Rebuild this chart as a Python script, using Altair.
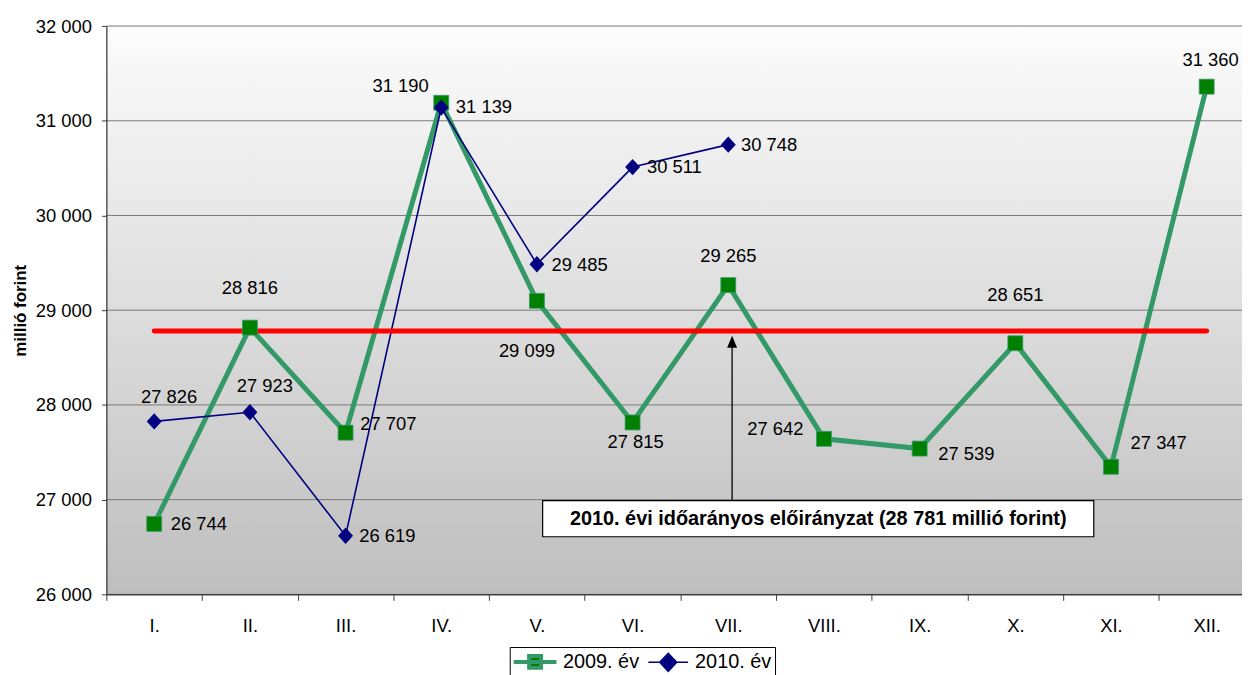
import json
import altair as alt
import pandas as pd

# ---------------- data ----------------
months = ["I.", "II.", "III.", "IV.", "V.", "VI.", "VII.", "VIII.", "IX.", "X.", "XI.", "XII."]
values_2009 = [26744, 28816, 27707, 31190, 29099, 27815, 29265, 27642, 27539, 28651, 27347, 31360]
values_2010 = [27826, 27923, 26619, 31139, 29485, 30511, 30748]
target_value = 28781
series_names = ["2009. év", "2010. év"]
y_ticks = [26000, 27000, 28000, 29000, 30000, 31000, 32000]
y_title = "millió forint"
annotation_text = "2010. évi időarányos előirányzat (28 781 millió forint)"

# ---------------- layout / style ----------------
FONT = "Liberation Sans"
PLOT_W, PLOT_H = 1143, 572
BAND_PX = 96.3
X_MAX = PLOT_W / BAND_PX

GREEN_LINE = "#339966"
GREEN_MARK = "#008000"
NAVY = "#000080"
RED = "#FF0000"

# label offsets (pixels) for every data label
LABEL_OFFSETS_2009 = [(45, 0), (0, -40), (43, -9), (-41, -17), (-10, 51), (3, 20),
                      (0, -29), (-49, -10), (47, 5), (0, -49), (48, -24), (4, -27)]
LABEL_OFFSETS_2010 = [(15, -25), (15, -26), (42, 0), (43, -1), (43, 1), (42, 0), (41, 0)]

# annotation placement (in data units)
BOX_X = (4.56, 10.32)
BOX_Y = (26608, 26990)
ARROW_X = 6.54
ARROW_TIP = 28730

df09 = pd.DataFrame({
    "idx": list(range(len(values_2009))),
    "pos": [i + 0.5 for i in range(len(values_2009))],
    "value": values_2009,
    "series": series_names[0],
})
df10 = pd.DataFrame({
    "idx": list(range(len(values_2010))),
    "pos": [i + 0.5 for i in range(len(values_2010))],
    "value": values_2010,
    "series": series_names[1],
})
df_target = pd.DataFrame({
    "pos": [i + 0.5 for i in range(len(months))],
    "value": [target_value] * len(months),
})
df_grid = pd.DataFrame({"value": y_ticks})

x_scale = alt.Scale(domain=[0, X_MAX], nice=False, zero=False)
y_scale = alt.Scale(domain=[y_ticks[0], y_ticks[-1]], nice=False, zero=False)

x_axis = alt.Axis(
    values=list(range(len(months))),
    labelExpr=f"{json.dumps(months)}[datum.value]",
    labelOffset=BAND_PX / 2,
    labelFlush=False,
    labelOverlap=False,
    labelAlign="center",
    labelPadding=16,
    labelFont=FONT,
    labelFontSize=18.5,
    labelColor="black",
    tickSize=6,
    tickColor="#404040",
    domainColor="#404040",
    domainWidth=1.5,
    grid=False,
    title=None,
    zindex=1,
)
y_axis = alt.Axis(
    values=y_ticks,
    labelExpr="replace(format(datum.value, ','), ',', ' ')",
    labelPadding=10,
    labelFont=FONT,
    labelFontSize=18.5,
    labelColor="black",
    tickSize=5,
    tickColor="#404040",
    domainColor="#303030",
    domainWidth=1.2,
    grid=False,
    title=y_title,
    titleFont=FONT,
    titleFontSize=17,
    titleFontWeight="bold",
    titleColor="black",
    titlePadding=6,
    zindex=1,
)


def X():
    return alt.X("pos:Q", scale=x_scale, axis=x_axis)


def Y():
    return alt.Y("value:Q", scale=y_scale, axis=y_axis)


gradient = alt.LinearGradient(
    gradient="linear",
    stops=[alt.GradientStop(color="#FCFCFC", offset=0), alt.GradientStop(color="#BEBEBE", offset=1)],
    x1=0, x2=0, y1=0, y2=1,
)
background = alt.Chart(alt.Data(values=[{}])).mark_rect(color=gradient).encode(
    x=alt.value(0), x2=alt.value(PLOT_W + 20), y=alt.value(0), y2=alt.value(PLOT_H)
)

grid = alt.Chart(df_grid).mark_rule(color="#7a7a7a", strokeWidth=1).encode(y=Y())

line09 = alt.Chart(df09).mark_line(color=GREEN_LINE, strokeWidth=5).encode(x=X(), y=Y())
line10 = alt.Chart(df10).mark_line(color=NAVY, strokeWidth=1.6).encode(x=X(), y=Y())
target = alt.Chart(df_target).mark_line(color=RED, strokeWidth=5, strokeCap="round").encode(x=X(), y=Y())
pts09 = alt.Chart(df09).mark_point(
    shape="square", filled=True, size=225, fill=GREEN_MARK, stroke=GREEN_LINE, strokeWidth=0.8, opacity=1
).encode(x=X(), y=Y())
pts10 = alt.Chart(df10).mark_point(
    shape="M0,-1.1L1,0L0,1.1L-1,0Z", filled=True, size=225, color=NAVY, opacity=1
).encode(x=X(), y=Y())

label_expr = "replace(format(datum.value, ','), ',', ' ')"
label_layers = []
for df, offsets in ((df09, LABEL_OFFSETS_2009), (df10, LABEL_OFFSETS_2010)):
    for i, (dx, dy) in enumerate(offsets):
        label_layers.append(
            alt.Chart(df).transform_filter(f"datum.idx == {i}").transform_calculate(label=label_expr)
            .mark_text(font=FONT, fontSize=18.5, color="black", align="center", baseline="middle", dx=dx, dy=dy)
            .encode(x=X(), y=Y(), text="label:N")
        )

df_box = pd.DataFrame({"pos": [BOX_X[0]], "pos2": [BOX_X[1]], "value": [BOX_Y[0]], "value2": [BOX_Y[1]]})
box = alt.Chart(df_box).mark_rect(fill="white", stroke="black", strokeWidth=1.2).encode(
    x=X(), x2="pos2:Q", y=Y(), y2="value2:Q"
)
df_text = pd.DataFrame({"pos": [(BOX_X[0] + BOX_X[1]) / 2], "value": [(BOX_Y[0] + BOX_Y[1]) / 2], "t": [annotation_text]})
box_text = alt.Chart(df_text).mark_text(
    font=FONT, fontSize=20, fontWeight="bold", color="black", align="center", baseline="middle"
).encode(x=X(), y=Y(), text="t:N")

df_arrow = pd.DataFrame({"pos": [ARROW_X], "value": [BOX_Y[1]], "value2": [ARROW_TIP - 120]})
arrow_line = alt.Chart(df_arrow).mark_rule(color="black", strokeWidth=1.3).encode(
    x=X(), y=Y(), y2="value2:Q"
)
df_head = pd.DataFrame({"pos": [ARROW_X], "value": [ARROW_TIP]})
arrow_head = alt.Chart(df_head).mark_point(
    shape="M0,0L-1,2.4L1,2.4Z", filled=True, size=100, color="black", opacity=1
).encode(x=X(), y=Y())

legend = alt.Legend(
    title=None, orient="none", legendX=406, legendY=625, direction="horizontal",
    strokeColor="black", fillColor="white", padding=3, cornerRadius=0,
    labelFont=FONT, labelFontSize=20, labelColor="black", labelLimit=0,
    symbolSize=400, symbolOffset=10.5, labelOffset=16, columnPadding=5, symbolOpacity=1,
)
LEGEND_SYMBOLS = ["M-2.15,0H2.15M-0.6,-0.6H0.6V0.6H-0.6Z", "M-2,0H2M0,-0.9L0.85,0L0,0.9L-0.85,0Z"]
legend_layer = alt.Chart(pd.concat([df09, df10])).transform_filter("false").mark_point(filled=True, opacity=1).encode(
    x=X(), y=Y(),
    fill=alt.Fill("series:N", scale=alt.Scale(domain=series_names, range=[GREEN_MARK, NAVY]), legend=legend),
    stroke=alt.Stroke("series:N", scale=alt.Scale(domain=series_names, range=[GREEN_LINE, NAVY]), legend=legend),
    shape=alt.Shape("series:N", scale=alt.Scale(domain=series_names, range=LEGEND_SYMBOLS), legend=legend),
    strokeWidth=alt.StrokeWidth("series:N", scale=alt.Scale(domain=series_names, range=[4, 1.6]), legend=legend),
)

chart = alt.layer(
    background, grid, line09, line10, target, arrow_line, arrow_head, box, box_text,
    pts09, pts10, *label_layers, legend_layer,
).properties(
    width=PLOT_W, height=PLOT_H,
    autosize=alt.AutoSizeParams(type="none"),
    padding={"left": 99, "top": 16, "right": 0, "bottom": 79},
).configure_view(stroke=None)

chart.save("out.html", embed_options={"renderer": "svg", "actions": False})
